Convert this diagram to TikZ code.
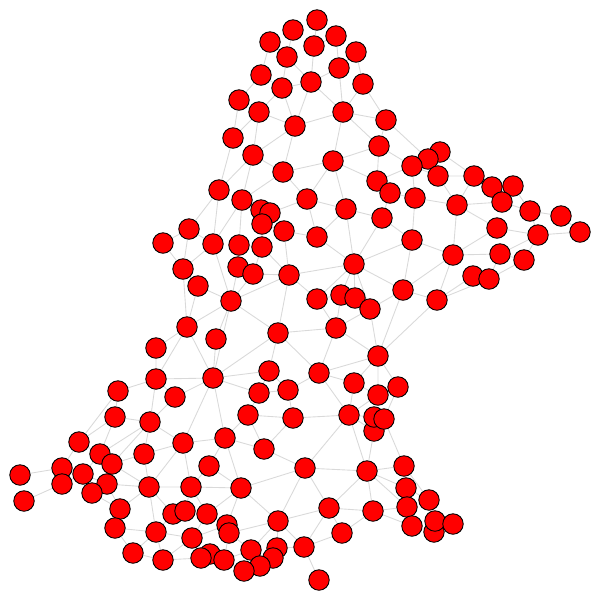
\documentclass[tikz,border=0pt]{standalone}
\usepackage{tikz}
\usetikzlibrary{backgrounds}

\begin{document}
\begin{tikzpicture}[
        x=0.02cm, y=-0.02cm,
        vtx/.style={circle, draw=black, fill=red, line width=0.5pt, inner sep=0pt, minimum size=0.41cm},
        link/.style={draw=black!15, line width=0.5pt}
    ]
        \useasboundingbox (0,0) rectangle (600,600);

        % top part
        \node (A1) [vtx] at (317,20) {};
        \node (A2) [vtx] at (293,30) {};
        \node (A3) [vtx] at (336,36) {};
        \node (A4) [vtx] at (270,42) {};
        \node (A5) [vtx] at (314,46) {};
        \node (A6) [vtx] at (356,52) {};
        \node (A7) [vtx] at (287,57) {};
        \node (A8) [vtx] at (339,68) {};
        \node (A9) [vtx] at (261,75) {};
        \node (A10) [vtx] at (311,82) {};
        \node (A11) [vtx] at (363,84) {};
        \node (A12) [vtx] at (282,88) {};
        \node (A13) [vtx] at (239,100) {};
        \node (A14) [vtx] at (259,112) {};
        \node (A15) [vtx] at (343,112) {};
        \node (A16) [vtx] at (386,120) {};
        \node (A17) [vtx] at (295,126) {};
        \node (A18) [vtx] at (233,138) {};
        \node (A19) [vtx] at (379,146) {};
        \node (A20) [vtx] at (253,155) {};
        \node (A21) [vtx] at (440,152) {};
        \node (A22) [vtx] at (428,159) {};
        \node (A23) [vtx] at (333,161) {};
        \node (A24) [vtx] at (412,166) {};
        \node (A25) [vtx] at (283,172) {};
        \node (A26) [vtx] at (438,176) {};
        \node (A27) [vtx] at (474,176) {};
        \node (A28) [vtx] at (377,181) {};
        \node (A29) [vtx] at (492,187) {};
        \node (A30) [vtx] at (513,186) {};
        \node (A31) [vtx] at (219,190) {};
        \node (A32) [vtx] at (390,193) {};
        \node (A33) [vtx] at (242,200) {};
        \node (A34) [vtx] at (307,199) {};
        \node (A35) [vtx] at (415,198) {};
        \node (A36) [vtx] at (502,202) {};
        \node (A37) [vtx] at (457,205) {};

        % upper middle
        \node (B1) [vtx] at (346,209) {};
        \node (B2) [vtx] at (261,210) {};
        \node (B3) [vtx] at (270,213) {};
        \node (B4) [vtx] at (530,211) {};
        \node (B5) [vtx] at (561,216) {};
        \node (B6) [vtx] at (382,218) {};
        \node (B7) [vtx] at (262,224) {};
        \node (B8) [vtx] at (497,228) {};
        \node (B9) [vtx] at (189,229) {};
        \node (B10) [vtx] at (284,231) {};
        \node (B11) [vtx] at (580,232) {};
        \node (B12) [vtx] at (538,235) {};
        \node (B13) [vtx] at (317,237) {};
        \node (B14) [vtx] at (412,240) {};
        \node (B15) [vtx] at (163,243) {};
        \node (B16) [vtx] at (213,244) {};
        \node (B17) [vtx] at (239,245) {};
        \node (B18) [vtx] at (262,247) {};
        \node (B19) [vtx] at (453,255) {};
        \node (B20) [vtx] at (500,254) {};
        \node (B21) [vtx] at (524,260) {};
        \node (B22) [vtx] at (354,264) {};
        \node (B23) [vtx] at (238,267) {};
        \node (B24) [vtx] at (183,269) {};
        \node (B25) [vtx] at (253,274) {};
        \node (B26) [vtx] at (289,275) {};
        \node (B27) [vtx] at (473,276) {};
        \node (B28) [vtx] at (489,279) {};
        \node (B29) [vtx] at (198,286) {};
        \node (B30) [vtx] at (403,290) {};
        \node (B31) [vtx] at (341,295) {};
        \node (B32) [vtx] at (355,298) {};
        \node (B33) [vtx] at (317,299) {};
        \node (B34) [vtx] at (437,300) {};
        \node (B35) [vtx] at (231,301) {};
        \node (B36) [vtx] at (370,309) {};

        % lower middle
        \node (C1) [vtx] at (187,327) {};
        \node (C2) [vtx] at (336,328) {};
        \node (C3) [vtx] at (278,333) {};
        \node (C4) [vtx] at (216,339) {};
        \node (C5) [vtx] at (156,348) {};
        \node (C6) [vtx] at (378,356) {};
        \node (C7) [vtx] at (269,371) {};
        \node (C8) [vtx] at (319,373) {};
        \node (C9) [vtx] at (213,378) {};
        \node (C10) [vtx] at (156,379) {};
        \node (C11) [vtx] at (354,383) {};
        \node (C12) [vtx] at (398,387) {};
        \node (C13) [vtx] at (288,390) {};
        \node (C14) [vtx] at (118,391) {};
        \node (C15) [vtx] at (259,393) {};
        \node (C16) [vtx] at (378,395) {};
        \node (C17) [vtx] at (175,397) {};
        \node (C18) [vtx] at (248,415) {};
        \node (C19) [vtx] at (349,415) {};
        \node (C20) [vtx] at (293,418) {};
        \node (C21) [vtx] at (115,417) {};
        \node (C26) [vtx] at (374,431) {};
        \node (C22) [vtx] at (374,417) {};
        \node (C23) [vtx] at (384,419) {};
        \node (C24) [vtx] at (150,422) {};
        \node (C25) [vtx] at (225,438) {};
        \node (C27) [vtx] at (79,442) {};
        \node (C28) [vtx] at (183,443) {};
        \node (C29) [vtx] at (264,449) {};
        \node (C30) [vtx] at (100,454) {};
        \node (C31) [vtx] at (144,454) {};

        % bottom part
        \node (D1) [vtx] at (112,464) {};
        \node (D2) [vtx] at (209,466) {};
        \node (D3) [vtx] at (305,468) {};
        \node (D4) [vtx] at (404,466) {};
        \node (D5) [vtx] at (367,471) {};
        \node (D6) [vtx] at (62,468) {};
        \node (D7) [vtx] at (20,475) {};
        \node (D8) [vtx] at (83,474) {};
        \node (D9) [vtx] at (62,484) {};
        \node (D10) [vtx] at (107,484) {};
        \node (D11) [vtx] at (149,487) {};
        \node (D12) [vtx] at (191,487) {};
        \node (D13) [vtx] at (241,488) {};
        \node (D14) [vtx] at (406,488) {};
        \node (D15) [vtx] at (92,493) {};
        \node (D16) [vtx] at (24,501) {};
        \node (D17) [vtx] at (429,500) {};
        \node (D18) [vtx] at (120,509) {};
        \node (D19) [vtx] at (329,508) {};
        \node (D20) [vtx] at (407,507) {};
        \node (D21) [vtx] at (373,511) {};
        \node (D22) [vtx] at (173,514) {};
        \node (D23) [vtx] at (185,511) {};
        \node (D24) [vtx] at (207,514) {};
        \node (D25) [vtx] at (278,521) {};
        \node (D33) [vtx] at (434,532) {};
        \node (D26) [vtx] at (435,521) {};
        \node (D27) [vtx] at (453,524) {};
        \node (D28) [vtx] at (412,526) {};
        \node (D29) [vtx] at (227,525) {};
        \node (D30) [vtx] at (115,528) {};
        \node (D31) [vtx] at (156,532) {};
        \node (D32) [vtx] at (229,533) {};
        \node (D34) [vtx] at (342,533) {};
        \node (D35) [vtx] at (192,538) {};
        \node (E1) [vtx] at (304,547) {};
        \node (E2) [vtx] at (277,548) {};
        \node (E3) [vtx] at (251,550) {};
        \node (E4) [vtx] at (133,553) {};
        \node (E5) [vtx] at (210,554) {};
        \node (E6) [vtx] at (273,558) {};
        \node (E7) [vtx] at (201,558) {};
        \node (E8) [vtx] at (163,560) {};
        \node (E9) [vtx] at (224,560) {};
        \node (E10) [vtx] at (260,566) {};
        \node (E11) [vtx] at (244,571) {};
        \node (E12) [vtx] at (319,580) {};

        \begin{pgfonlayer}{background}
        % links, top
        \draw [link] (A1) -- (A5) (A3) -- (A5) (A3) -- (A8) (A6) -- (A8) (A5) -- (A10) (A6) -- (A11)
            (A8) -- (A10) (A8) -- (A15) (A10) -- (A15) (A11) -- (A15) (A10) -- (A17) (A11) -- (A16)
            (A15) -- (A16) (A15) -- (A23) (A15) -- (A19) (A17) -- (A15) (A16) -- (A22) (A16) -- (A19)
            (A2) -- (A7) (A4) -- (A7) (A4) -- (A9) (A9) -- (A12) (A7) -- (A12) (A7) -- (A10)
            (A12) -- (A10) (A13) -- (A9) (A13) -- (A18) (A14) -- (A12) (A14) -- (A17) (A14) -- (A20)
            (A12) -- (A17) (A18) -- (A14) (A18) -- (A31) (A20) -- (A17) (A20) -- (A25) (A20) -- (A33)
            (A31) -- (A20) (A25) -- (A17) (A25) -- (A33) (A25) -- (A34) (A19) -- (A23) (A19) -- (A24)
            (A19) -- (A28) (A23) -- (A28) (A23) -- (B1) (A23) -- (A34) (A23) -- (A25) (A28) -- (A32)
            (A28) -- (A24) (A24) -- (A22) (A22) -- (A21) (A24) -- (A35) (A26) -- (A24) (A26) -- (A22)
            (A21) -- (A27) (A26) -- (A37) (A27) -- (A29) (A27) -- (A37) (A29) -- (A30) (A29) -- (A36)
            (A30) -- (A36) (A30) -- (B4) (A27) -- (A26) (A32) -- (A35);
        % links, upper middle
        \draw [link] (A34) -- (B1) (B1) -- (B13) (B1) -- (B22) (B1) -- (B6) (B6) -- (A32) (B6) -- (B22)
            (B6) -- (B14) (A35) -- (B14) (A35) -- (A37) (A37) -- (B19) (A37) -- (B8) (A37) -- (A36)
            (A36) -- (B4) (B4) -- (B5) (B4) -- (B12) (B5) -- (B11) (B12) -- (B11) (B8) -- (B12)
            (B12) -- (B20) (B12) -- (B21) (B19) -- (B8) (B19) -- (B20) (B19) -- (B14) (B19) -- (B34)
            (B19) -- (B30) (B20) -- (B28) (B21) -- (B28) (B27) -- (B34) (B28) -- (B34) (B27) -- (B28)
            (B20) -- (B21) (B14) -- (B30) (B22) -- (B14) (B22) -- (B13) (B22) -- (B30) (B22) -- (B31)
            (B22) -- (B32) (B22) -- (B36) (B22) -- (B26) (B22) -- (B33) (B13) -- (B10) (B30) -- (B34)
            (B30) -- (B36) (B30) -- (C6) (B34) -- (C6) (B36) -- (C6) (B36) -- (B32) (B31) -- (B32)
            (C2) -- (B31) (C2) -- (B36) (C2) -- (C6) (C2) -- (C8) (C2) -- (C3) (B33) -- (C2)
            (B33) -- (B31) (B33) -- (B26) (C6) -- (C8) (C6) -- (C11) (C6) -- (C16) (C6) -- (C12)
            (C8) -- (C11) (C8) -- (C13) (C8) -- (C19) (A34) -- (B13) (A34) -- (B3) (B3) -- (A33)
            (B2) -- (A33) (B2) -- (B3) (B7) -- (B2) (B7) -- (B3) (B7) -- (B10) (B7) -- (B18)
            (B18) -- (B25);
        % links, left
        \draw [link] (B9) -- (A31) (B9) -- (B16) (B9) -- (B24) (B15) -- (B9) (B15) -- (B24) (B16) -- (A33)
            (B16) -- (A31) (B16) -- (B24) (B16) -- (B35) (B17) -- (A33) (B17) -- (B18) (B17) -- (B23)
            (B18) -- (B26) (B26) -- (B25) (B26) -- (B35) (B10) -- (B26) (B23) -- (B35) (B25) -- (B35)
            (B29) -- (B24) (B29) -- (B35) (B29) -- (C1) (B24) -- (C1) (C1) -- (B35) (C1) -- (C5)
            (C1) -- (C9) (C1) -- (C10) (B35) -- (C4) (B35) -- (C9) (B35) -- (C3) (C3) -- (B26)
            (C3) -- (C7) (C3) -- (C9) (C3) -- (C8) (C9) -- (C7) (C9) -- (C10) (C10) -- (C5)
            (C10) -- (C14) (C10) -- (C17) (C9) -- (C17) (C9) -- (C15) (C7) -- (C15) (C7) -- (C13)
            (C15) -- (C13) (C9) -- (C4) (C13) -- (C20) (C15) -- (C18) (C14) -- (C27);
        % links, lower left
        \draw [link] (C21) -- (C24) (C21) -- (C27) (C21) -- (C30) (C21) -- (C14) (C24) -- (C17) (C24) -- (C28)
            (C24) -- (C31) (C24) -- (C30) (C24) -- (D1) (C24) -- (C10) (C28) -- (C25) (C28) -- (C31)
            (C28) -- (D11) (C28) -- (D12) (C28) -- (C9) (C25) -- (C18) (C25) -- (D2) (C25) -- (C29)
            (C25) -- (D13) (C25) -- (C9) (C18) -- (C20) (C18) -- (C29) (C29) -- (C20) (C29) -- (D3)
            (D13) -- (D3) (D13) -- (D12) (D13) -- (D2) (D13) -- (D25) (D13) -- (D29) (D13) -- (D24)
            (D12) -- (D2) (D12) -- (D11) (D12) -- (D23) (D12) -- (D24) (D11) -- (D18) (D11) -- (D1)
            (D11) -- (D10) (D11) -- (D31) (D11) -- (C31) (D11) -- (D22) (C31) -- (D1) (C27) -- (D6)
            (C27) -- (C30) (C30) -- (D1) (C30) -- (D8) (D6) -- (D7) (D6) -- (D9) (D6) -- (D8)
            (D9) -- (D16) (D9) -- (D8) (D8) -- (D10) (D8) -- (D15) (D10) -- (D15) (D10) -- (D1)
            (D10) -- (D18) (D15) -- (D18) (D18) -- (D30) (D30) -- (D31) (D30) -- (E4) (D31) -- (E4)
            (D31) -- (E8) (D31) -- (D22) (D31) -- (D35) (D22) -- (D23) (D23) -- (D24) (D24) -- (D35)
            (D24) -- (D29) (D35) -- (D29) (D35) -- (E7) (D35) -- (E8) (E8) -- (E7) (E7) -- (E5)
            (E5) -- (E9) (D32) -- (E9) (D32) -- (E3) (D32) -- (D25) (D25) -- (E2) (D25) -- (E3)
            (D25) -- (E1) (D25) -- (D3) (D25) -- (D19) (E3) -- (E11) (E3) -- (E10) (E3) -- (E9)
            (E11) -- (E10) (E10) -- (E6) (E6) -- (E2) (E9) -- (E11) (E4) -- (E8) (D29) -- (D32)
            (E1) -- (E2) (E1) -- (D34) (E1) -- (E12);
        % links, lower right
        \draw [link] (C20) -- (C19) (C19) -- (C22) (C19) -- (C26) (C19) -- (D5) (C19) -- (D3) (C19) -- (C11)
            (C19) -- (C16) (C26) -- (D5) (C23) -- (D4) (D3) -- (D5) (D3) -- (D19) (D5) -- (D4)
            (D5) -- (D14) (D5) -- (D20) (D5) -- (D19) (D5) -- (D21) (D4) -- (D14) (D4) -- (D17)
            (D14) -- (D20) (D20) -- (D21) (D20) -- (D28) (D17) -- (D26) (D26) -- (D33) (D26) -- (D27)
            (D27) -- (D33) (D28) -- (D33) (D21) -- (D28) (D19) -- (D21) (D19) -- (D34) (D19) -- (E1)
            (D21) -- (D34) (C11) -- (C16) (C12) -- (C16) (C12) -- (C23) (C16) -- (C22) (C22) -- (C23)
            (C23) -- (C26) (C22) -- (C26) (D14) -- (D17);
        \end{pgfonlayer}
    \end{tikzpicture}
\end{document}
